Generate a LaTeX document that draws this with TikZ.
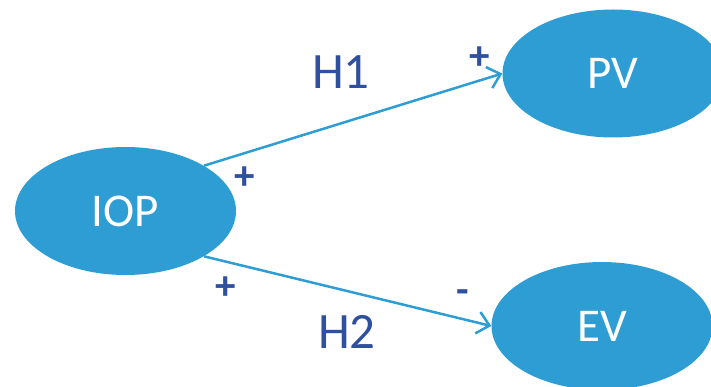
\documentclass[tikz,border=0pt]{standalone}
\usepackage{fontspec}
\setmainfont{Carlito}
\usetikzlibrary{shapes.geometric,arrows.meta}
\definecolor{nodeblue}{HTML}{2E9DD4}
\definecolor{labelblue}{HTML}{2F4F9F}
\tikzset{
  construct/.style={ellipse, fill=nodeblue, draw=none, inner sep=0pt,
    minimum width=221pt, minimum height=128pt, text=white,
    font=\fontsize{47}{50}\selectfont},
  path/.style={draw=nodeblue, line width=2.5pt,
    -{Straight Barb[length=12pt,width=22pt,line width=2.5pt]}},
  hyp/.style={text=labelblue, font=\fontsize{51}{54}\selectfont},
  sign/.style={text=labelblue, font=\bfseries\fontsize{41}{44}\selectfont}
}
\begin{document}
\begin{tikzpicture}[x=1pt,y=-1pt]
\useasboundingbox (0,0) rectangle (711,387);
\clip (0,0) rectangle (711,387);
\node[construct] (iop) at (125.5,211) {IOP};
\node[construct] (pv) at (613,73.5) {PV};
\node[construct] (ev) at (602,326) {EV};
\draw[path] (iop.30) -- (pv.west);
\draw[path] (iop.-30) -- (ev.west);
\node[hyp] (h1) at (341,72) {H1};
\node[hyp] (h2) at (347,332) {H2};
\node[sign] (s1) at (245,178) {+};
\node[sign] (s2) at (480,58) {+};
\node[sign] (s3) at (226,288) {+};
\node[sign] (s4) at (463,297) {-};
\end{tikzpicture}
\end{document}
